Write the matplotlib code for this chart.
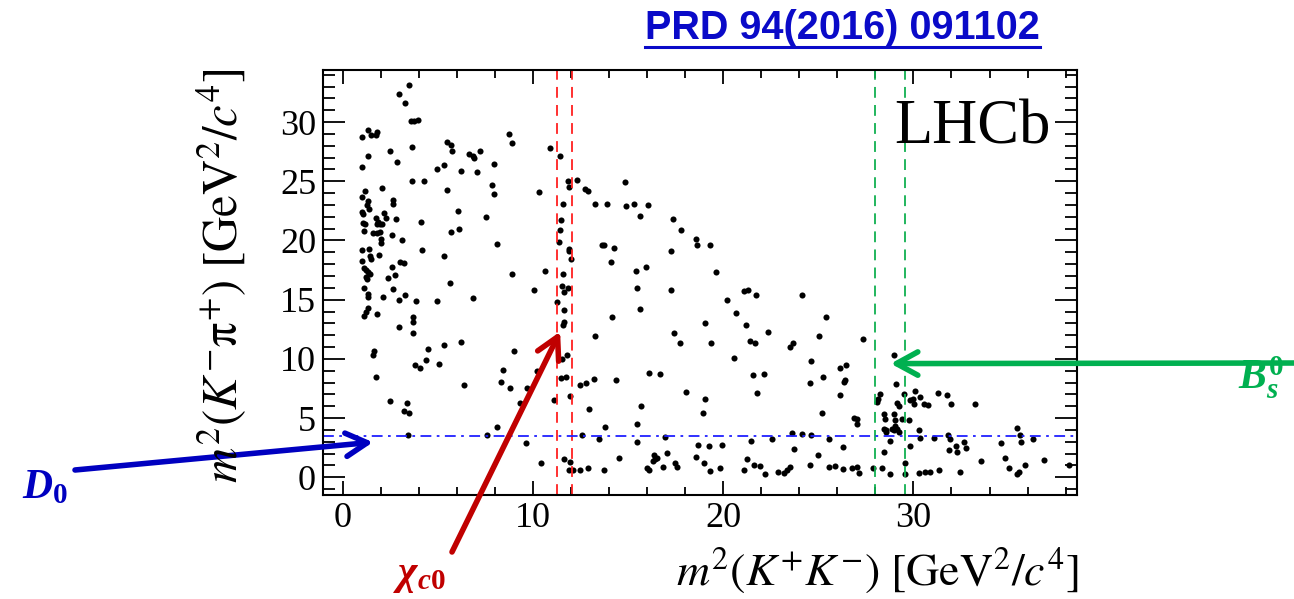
import matplotlib
matplotlib.use("Agg")
import matplotlib.pyplot as plt
from matplotlib.lines import Line2D
from matplotlib.ticker import MultipleLocator

plt.rcParams['font.family'] = ['Liberation Serif', 'DejaVu Serif']
plt.rcParams['mathtext.fontset'] = 'stix'
plt.rcParams['mathtext.rm'] = 'Liberation Serif:bold'
plt.rcParams['mathtext.it'] = 'Liberation Serif:italic:bold'
plt.rcParams['mathtext.bf'] = 'Liberation Serif:bold'

# Dalitz plot events (GeV^2/c^4)
# upper left / top region
top_x = [3.47, 2.95, 3.26, 3.58, 3.74, 3.93, 1.30, 1.02, 1.46, 1.77, 1.74,
         8.75, 8.88, 10.9, 11.42, 2.46, 3.61, 1.32, 2.82, 1.0,
         5.46, 5.68, 5.72, 6.65, 6.82, 6.91, 7.21, 7.93, 5.32, 4.95, 6.23, 7.07,
         3.63, 4.28, 2.05, 5.46, 7.84, 7.93, 10.33,
         11.84, 12.3, 11.91, 12.74, 12.91, 11.56, 11.47, 11.42, 11.38,
         11.88, 11.91, 12.0, 11.58, 10.63, 8.88,
         6.04, 7.53, 4.1, 5.67, 6.12, 8.09, 4.16, 5.32, 3.1, 2.56, 3.0, 3.21,
         2.56, 2.75, 2.38, 1.91]
top_y = [33.1, 32.4, 31.6, 30.1, 30.1, 30.2, 29.3, 28.7, 28.9, 29.2, 28.9,
         29.0, 28.2, 27.8, 27.1, 27.6, 27.9, 27.1, 26.65, 26.2,
         28.3, 28.1, 27.6, 27.3, 27.1, 27.0, 27.6, 26.5, 26.4, 26.0, 25.9, 25.75,
         25.0, 25.05, 24.4, 24.3, 24.65, 23.95, 24.1,
         25.05, 25.1, 24.5, 24.35, 24.2, 23.1, 21.7, 20.9, 19.9,
         19.3, 19.1, 18.4, 17.2, 17.4, 17.2,
         22.5, 22.0, 21.6, 20.7, 21.0, 19.7, 19.2, 18.7, 20.0, 20.5, 18.2, 18.1,
         17.8, 17.1, 16.8, 18.8]

# dense band at low m2(K+K-)
left_x = [1.16, 1.02, 1.3, 1.26, 1.37, 2.65, 2.65, 0.98, 1.07, 2.17, 1.74, 1.86,
          2.25, 2.77, 1.07, 1.16, 1.79, 1.96, 2.07, 1.12, 1.6, 1.77, 1.93, 2.0,
          2.0, 1.02, 1.37, 1.42, 1.47, 1.02, 1.12, 1.19, 1.3, 1.42, 1.19, 1.26,
          1.12, 2.65, 1.3, 1.3, 2.12, 3.26, 2.96, 3.83, 4.96, 1.3, 1.19, 1.09,
          1.77, 3.7, 3.7, 2.95]
left_y = [24.2, 23.7, 23.35, 23.0, 22.7, 23.4, 23.1, 22.4, 22.2, 22.35, 21.9, 21.6,
          21.9, 21.85, 21.45, 21.4, 21.35, 21.4, 21.4, 20.8, 20.65, 20.6, 20.7, 20.1,
          19.8, 19.2, 19.3, 18.7, 18.45, 18.3, 17.7, 17.5, 17.3, 17.15, 16.9, 16.75,
          16.0, 15.9, 15.5, 15.2, 15.2, 15.4, 15.0, 14.9, 14.9, 14.3, 14.0, 13.6,
          13.8, 13.5, 13.1, 12.7]

# lower left, around chi_c0
mid_x = [5.63, 11.51, 11.63, 11.81, 10.05, 6.86, 11.28, 11.6, 11.6, 11.56, 3.7,
         1.65, 1.56, 1.74, 4.49, 5.33, 6.21, 4.35, 5.07, 3.79, 4.05, 6.37, 2.47,
         3.35, 3.21, 3.49, 3.44, 7.6, 8.09, 9.0, 8.44, 8.33, 8.79, 10.19, 9.7,
         9.32, 9.63, 10.44, 11.51, 11.77, 11.46, 11.74, 11.1, 11.95, 12.44, 12.79,
         12.96, 12.56, 11.63, 11.95, 11.91, 12.09, 12.47, 12.91]
mid_y = [16.45, 16.15, 15.65, 16.0, 15.8, 15.1, 14.8, 14.1, 13.1, 12.85, 12.2,
         10.7, 10.3, 8.5, 10.8, 11.2, 11.4, 9.9, 9.6, 9.45, 9.2, 7.8, 6.4,
         6.3, 5.6, 5.4, 3.6, 3.55, 4.25, 10.7, 9.05, 8.05, 7.5, 9.0, 7.5,
         6.3, 2.9, 1.2, 9.95, 10.3, 8.35, 8.5, 6.55, 6.85, 7.8, 8.0,
         5.8, 3.55, 1.5, 1.3, 0.65, 0.6, 0.6, 0.75]

# centre of the plot
cen_x = [14.84, 13.26, 13.88, 14.88, 15.32, 16.02, 15.63, 17.35, 17.75, 18.56,
         18.61, 19.3, 13.62, 13.74, 14.23, 17.23, 14.07, 15.95,
         15.4, 19.6, 15.46, 15.6, 17.25, 14.14, 13.23, 17.4, 17.7, 19.03, 19.37,
         20.19, 21.07, 21.28, 21.74, 20.65, 21.2, 21.42, 21.68, 22.33, 24.14,
         25.42, 25.05, 23.53, 23.67, 20.58, 24.63, 13.21, 14.37, 16.07, 16.68,
         15.68, 13.79, 15.46, 18.02, 19.02, 18.91, 21.54, 22.16, 21.77, 24.54,
         25.25, 25.21, 13.44, 15.46, 16.95, 18.65, 19.23, 19.93, 21.47, 22.56,
         23.63, 24.14, 24.63, 23.7, 25.54, 14.53, 13.74, 15.98, 16.07, 16.33,
         16.42, 16.3, 16.54, 17.04, 16.83, 17.44, 17.56, 18.56, 19.0, 19.28,
         19.84, 21.1, 21.25, 21.63, 21.95, 22.21, 22.86, 23.21, 23.35, 23.49,
         24.58, 24.96, 25.54]
cen_y = [24.9, 23.1, 23.05, 22.9, 23.05, 23.0, 22.05, 21.8, 20.85, 20.1,
         19.6, 19.6, 19.6, 19.65, 19.35, 19.1, 18.2, 17.8,
         17.4, 17.3, 16.0, 14.25, 15.85, 13.55, 11.95, 12.2, 11.35, 13.0, 11.3,
         15.0, 15.75, 15.8, 15.4, 13.9, 12.85, 11.5, 11.35, 12.3, 15.4,
         13.5, 11.95, 11.0, 11.35, 10.1, 9.8, 8.3, 8.2, 8.8, 8.7,
         6.05, 4.25, 4.5, 7.2, 6.65, 5.4, 8.6, 8.7, 7.1, 8.0,
         8.5, 5.4, 3.25, 2.95, 3.4, 2.7, 2.6, 2.75, 3.1, 3.2,
         3.75, 3.65, 3.6, 2.4, 3.25, 1.65, 0.65, 0.8, 0.65, 1.85,
         1.55, 1.4, 1.65, 2.05, 0.85, 1.2, 0.85, 1.7, 1.2, 0.55,
         0.75, 0.6, 1.55, 1.0, 0.95, 0.25, 0.45, 0.4, 0.65, 0.85,
         1.0, 1.9, 0.85]

# right part, around Bs0
right_x = [27.33, 28.96, 26.16, 26.47, 26.42, 26.37, 26.12, 29.1,
           28.23, 28.09, 29.49, 29.98, 29.81, 30.1, 30.02, 29.14, 29.23, 31.3,
           31.74, 31.95, 30.54, 28.44, 28.49, 29.0, 29.05, 29.4, 29.75, 28.44,
           28.58, 28.53, 28.88, 29.0, 29.14, 29.05, 29.23, 30.28, 28.75, 30.37,
           31.8, 31.91, 28.47, 29.84, 31.86, 32.26, 32.3, 32.68, 29.54, 27.88,
           28.35, 28.79, 29.58, 30.28, 30.63, 30.89, 31.33, 32.47,
           26.3, 25.85, 26.3, 26.77, 27.03, 27.16, 33.21, 34.58, 35.42, 35.58,
           35.68, 36.26, 34.8, 35.02, 35.46, 35.54, 35.86, 36.86, 38.17, 33.56,
           32.74, 31.07, 30.37, 30.74, 28.15, 26.86, 27.04, 27.04]
right_y = [11.65, 10.3, 9.2, 9.5, 8.25, 8.05, 6.95, 7.85,
           7.0, 6.35, 7.0, 6.65, 6.55, 7.3, 6.2, 6.3, 6.0, 7.15,
           6.95, 6.15, 6.2, 5.3, 4.95, 5.3, 4.8, 4.95, 4.8, 4.1,
           3.85, 4.0, 4.1, 4.0, 4.1, 4.3, 3.85, 4.0, 3.1, 3.3,
           3.6, 3.25, 2.15, 2.6, 2.3, 2.6, 2.15, 3.0, 1.2, 0.8,
           0.75, 0.25, 0.3, 0.4, 0.45, 0.45, 0.65, 0.45,
           2.55, 0.95, 0.7, 0.8, 0.85, 0.35, 6.2, 2.9, 4.2, 3.55,
           3.0, 3.25, 1.65, 0.8, 0.3, 0.45, 1.0, 1.45, 1.0, 1.35,
           2.45, 3.3, 6.75, 6.1, 6.65, 5.0, 4.95, 4.5]

chic0_window = [11.28, 12.07]
bs_window = [28.0, 29.58]
d0_m2 = 3.46

W, H = 1294, 599
fig = plt.figure(figsize=(W / 100, H / 100), dpi=100)
ax = fig.add_axes([323 / W, 1 - 495 / H, (1077 - 323) / W, (495 - 70) / H])

for xs, ys in [(top_x, top_y), (left_x, left_y), (mid_x, mid_y),
               (cen_x, cen_y), (right_x, right_y)]:
    ax.plot(xs, ys, 'o', color='black', ms=4.4, mew=0)

for xv in chic0_window:
    ax.axvline(xv, color='#ff2020', lw=1.3, ls=(0, (6, 4)))
for xv in bs_window:
    ax.axvline(xv, color='#10b050', lw=1.3, ls=(0, (6, 4)))
ax.axhline(d0_m2, color='#2020ff', lw=1.3, ls=(0, (6, 3, 1.5, 3)))

ax.set_xlim(-1.05, 38.6)
ax.set_ylim(-1.5, 34.4)
ax.xaxis.set_major_locator(MultipleLocator(10))
ax.xaxis.set_minor_locator(MultipleLocator(2))
ax.yaxis.set_major_locator(MultipleLocator(5))
ax.yaxis.set_minor_locator(MultipleLocator(1))
ax.tick_params(which='both', direction='in', top=True, right=True,
               width=1.3, labelsize=26, colors='black')
ax.xaxis.set_tick_params(which='major', length=10, pad=5)
ax.xaxis.set_tick_params(which='minor', length=6)
ax.yaxis.set_tick_params(which='major', length=16, pad=5)
ax.yaxis.set_tick_params(which='minor', length=8.5)
for sp in ax.spines.values():
    sp.set_linewidth(1.5)

ax.text(0.965, 0.93, 'LHCb', transform=ax.transAxes, ha='right', va='top',
        fontsize=45)

fig.text(222 / W, 1 - 68 / H,
         r'$m^{2}(K^{-}\mathrm{\pi}^{+})\ [\mathrm{GeV}^{2}/c^{4}]$',
         rotation=90, ha='center', va='top', fontsize=35, math_fontfamily='stix')
fig.text(1078 / W, 1 - 570 / H,
         r'$m^{2}(K^{+}K^{-})\ [\mathrm{GeV}^{2}/c^{4}]$',
         ha='right', va='center', fontsize=33, math_fontfamily='stix')

# reference link
fig.text(645 / W, 1 - 28 / H, 'PRD 94(2016) 091102', ha='left', va='center',
         fontsize=28.5, fontweight='bold', family='Liberation Sans', color='#0a0ac8')
fig.add_artist(Line2D([645 / W, 1040 / W], [1 - 47 / H, 1 - 47 / H],
                      color='#0a0ac8', lw=2.2, transform=fig.transFigure))

# annotations
head = '->,head_length=1.1,head_width=0.6'
ax.annotate('', xy=(1.58, 2.96), xycoords='data',
            xytext=(75 / W, 1 - 470 / H), textcoords='figure fraction',
            arrowprops=dict(arrowstyle=head, lw=4, color='#0000c0',
                            mutation_scale=14, shrinkA=0, shrinkB=0))
ax.annotate('', xy=(11.42, 12.3), xycoords='data',
            xytext=(452 / W, 1 - 552 / H), textcoords='figure fraction',
            arrowprops=dict(arrowstyle=head, lw=4, color='#c00000',
                            mutation_scale=14, shrinkA=0, shrinkB=0))
ax.annotate('', xy=(28.8, 9.6), xycoords='data',
            xytext=(1300 / W, 1 - 363 / H), textcoords='figure fraction',
            arrowprops=dict(arrowstyle=head, lw=4, color='#00b050',
                            mutation_scale=14, shrinkA=0, shrinkB=0))

fig.text(22 / W, 1 - 488 / H, r'$D_{0}$', ha='left', va='center', fontsize=30,
         color='#0000c0', math_fontfamily='custom')
fig.text(393 / W, 1 - 576 / H, r'$\chi_{c0}$', ha='left', va='center', fontsize=30,
         color='#c00000', math_fontfamily='custom')
fig.text(1238 / W, 1 - 378 / H, r'$B_{s}^{0}$', ha='left', va='center', fontsize=30,
         color='#00b050', math_fontfamily='custom')

fig.savefig('out.png', dpi=100)
